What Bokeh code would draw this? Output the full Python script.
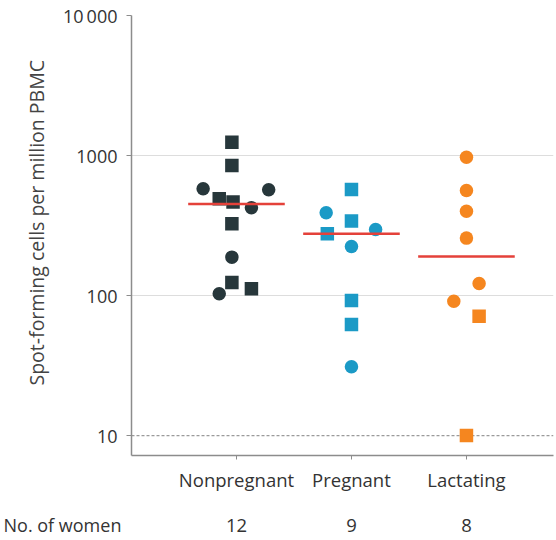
import math
from bokeh.plotting import figure
from bokeh.models import Range1d, FixedTicker, LinearAxis, Span, Title, ColumnDataSource
from bokeh.embed import file_html
from bokeh.resources import INLINE

# ---- data ----
groups = ["Nonpregnant", "Pregnant", "Lactating"]
n_women = ["12", "9", "8"]
count_row_label = "No. of women"
y_label = "Spot-forming cells per million PBMC"

nonpreg_values = [1245, 849, 578, 570, 491, 465, 423, 325, 188, 124, 112, 103]
nonpreg_markers = ["square", "square", "circle", "circle", "square", "square", "circle", "square", "circle", "square", "square", "circle"]
preg_values = [572, 390, 340, 296, 276, 224, 92, 62, 31]
preg_markers = ["square", "circle", "square", "circle", "square", "circle", "square", "square", "circle"]
lact_values = [973, 562, 400, 257, 122, 91, 71, 10]
lact_markers = ["circle", "circle", "circle", "circle", "circle", "circle", "square", "square"]
medians = [450, 276, 190]

# horizontal jitter (category units)
nonpreg_jitter = [-0.04, -0.04, -0.29, 0.28, -0.15, -0.03, 0.13, -0.04, -0.04, -0.04, 0.13, -0.15]
preg_jitter = [0, -0.22, 0, 0.21, -0.21, 0, 0, 0, 0]
lact_jitter = [0, 0, 0, 0, 0.11, -0.11, 0.11, 0]

colors = ["#27373b", "#1b9ac6", "#f5861f"]
FONT = "Open Sans"
TXT = "#333333"

p = figure(width=556, height=540, y_axis_type="log",
           x_range=Range1d(0.087, 3.757), y_range=Range1d(7.2, 10000),
           output_backend="svg", toolbar_location=None,
           min_border_left=131, min_border_right=3, min_border_top=15, min_border_bottom=85)
p.outline_line_color = None
p.xgrid.grid_line_color = None
p.ygrid.grid_line_color = None
p.background_fill_color = "white"

# grid lines
for v in [100, 1000]:
    p.add_layout(Span(location=v, dimension="width", line_color="#dddddd", line_width=1.2, level="underlay"))
p.add_layout(Span(location=10, dimension="width", line_color="#9a9a9a", line_width=1.2,
                  line_dash="3 2", level="underlay"))

all_vals = [nonpreg_values, preg_values, lact_values]
all_marks = [nonpreg_markers, preg_markers, lact_markers]
all_jit = [nonpreg_jitter, preg_jitter, lact_jitter]
for i, (vals, mks, jit) in enumerate(zip(all_vals, all_marks, all_jit)):
    src = ColumnDataSource(dict(x=[i + 1 + j for j in jit], y=vals, m=mks))
    p.scatter(x="x", y="y", marker="m", size=13.5, source=src,
              fill_color=colors[i], line_color=colors[i], line_width=0)

hw = 0.42
p.segment(x0=[i + 1 - hw for i in range(3)], x1=[i + 1 + hw for i in range(3)],
          y0=medians, y1=medians, line_color="#e4413a", line_width=2.5)

# y axis
ya = p.yaxis[0]
ya.ticker = FixedTicker(ticks=[10, 100, 1000, 10000])
ya.major_label_overrides = {10: "10", 100: "100", 1000: "1000", 10000: "10\u2009000"}
ya.major_label_text_font = FONT
ya.major_label_text_font_size = "18px"
ya.major_label_text_color = TXT
ya.major_label_standoff = 9
ya.major_tick_out = 5
ya.major_tick_in = 0
ya.minor_tick_line_color = None
ya.axis_line_color = "#8c8c8c"
ya.axis_line_width = 1.5
ya.major_tick_line_color = "#8c8c8c"

p.add_layout(Title(text=y_label, align="left", text_font=FONT, text_font_size="19.5px",
                   text_font_style="normal", text_color="#444444", standoff=21, offset=70), "left")

# x axis
xa = p.xaxis[0]
xa.ticker = FixedTicker(ticks=[1, 2, 3])
xa.major_label_overrides = {i + 1: g for i, g in enumerate(groups)}
xa.major_label_text_font = FONT
xa.major_label_text_font_size = "18.5px"
xa.major_label_text_color = TXT
xa.major_label_standoff = 7
xa.major_tick_out = 4
xa.major_tick_in = 0
xa.minor_tick_line_color = None
xa.axis_line_color = "#8c8c8c"
xa.axis_line_width = 1.5
xa.major_tick_line_color = "#8c8c8c"

# counts row
ca = LinearAxis(ticker=FixedTicker(ticks=[1, 2, 3]),
                major_label_overrides={i + 1: c for i, c in enumerate(n_women)},
                axis_line_color=None, major_tick_line_color=None, minor_tick_line_color=None,
                major_label_text_font=FONT, major_label_text_font_size="18.5px",
                major_label_text_color=TXT, major_label_standoff=18)
p.add_layout(ca, "below")

# row caption, to the left of the counts
p.add_layout(Title(text=count_row_label, align="left", vertical_align="top", text_font=FONT,
                   text_font_size="18px", text_font_style="normal", text_color=TXT,
                   standoff=-44, offset=-128), "below")

open("out.html", "w").write(file_html(p, INLINE))
